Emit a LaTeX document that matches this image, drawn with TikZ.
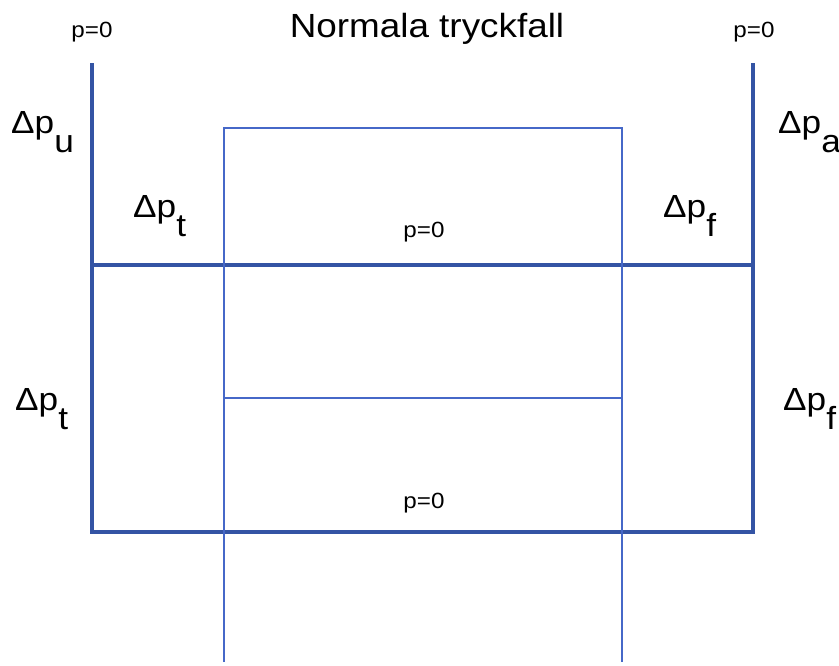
\documentclass[tikz,border=0pt]{standalone}
\usepackage{fontspec}
\setmainfont{Liberation Sans}[FakeStretch=1.1]
\definecolor{framec}{RGB}{52,84,164}
\definecolor{innerc}{RGB}{70,104,200}
\newcommand{\dsub}[1]{\raisebox{-19pt}{#1}}
\begin{document}
\begin{tikzpicture}[x=1pt,y=-1pt,
  mainline/.style={line width=4pt,draw=framec,line join=miter},
  thinline/.style={line width=1.2pt,draw=innerc},
  dlabel/.style={font=\fontsize{32}{32}\selectfont,anchor=base west,inner sep=0pt},
  plabel/.style={font=\fontsize{22}{22}\selectfont,anchor=base,inner sep=0pt},
  titlelabel/.style={font=\fontsize{33.5}{34}\selectfont,anchor=base,inner sep=0pt}]
\useasboundingbox (0,0) rectangle (839,665);
% frame coordinates
\coordinate (LT) at (92,63);
\coordinate (LM) at (92,265);
\coordinate (LB) at (92,532);
\coordinate (RT) at (753,63);
\coordinate (RM) at (753,265);
\coordinate (RB) at (753,532);
% inner coordinates
\coordinate (IT1) at (224,128);
\coordinate (IT2) at (622,128);
\coordinate (IM1) at (224,398);
\coordinate (IM2) at (622,398);
\coordinate (IB1) at (224,662);
\coordinate (IB2) at (622,662);
\draw[mainline] (LT) -- (LB) -- (RB) -- (RT);
\draw[mainline] (LM) -- (RM);
\draw[thinline] (IB1) -- (IT1) -- (IT2) -- (IB2);
\draw[thinline] (IM1) -- (IM2);
% texts
\node[titlelabel] (title) at (427,37) {Normala tryckfall};
\node[plabel] (p0l) at (92,37) {p=0};
\node[plabel] (p0r) at (754,37) {p=0};
\node[plabel] (p0m) at (424,237) {p=0};
\node[plabel] (p0b) at (424,508) {p=0};
\node[dlabel] (dpu) at (11,133) {Δp\dsub{u}};
\node[dlabel] (dpt1) at (133,217) {Δp\dsub{t}};
\node[dlabel] (dpa) at (778,133) {Δp\dsub{a}};
\node[dlabel] (dpf1) at (663,217) {Δp\dsub{f}};
\node[dlabel] (dpt2) at (15,410) {Δp\dsub{t}};
\node[dlabel] (dpf2) at (783,410) {Δp\dsub{f}};
\end{tikzpicture}
\end{document}
